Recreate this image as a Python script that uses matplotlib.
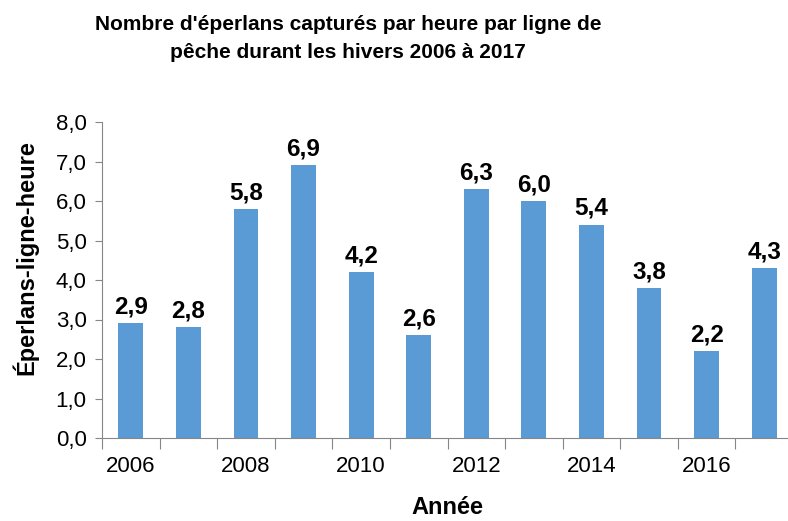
import numpy as np
import matplotlib.pyplot as plt
from matplotlib.ticker import FixedLocator, FuncFormatter

annees = [2006, 2007, 2008, 2009, 2010, 2011, 2012, 2013, 2014, 2015, 2016, 2017]
valeurs = [2.9, 2.8, 5.8, 6.9, 4.2, 2.6, 6.3, 6.0, 5.4, 3.8, 2.2, 4.3]
etiquettes = ["2,9", "2,8", "5,8", "6,9", "4,2", "2,6", "6,3", "6,0", "5,4", "3,8", "2,2", "4,3"]

plt.rcParams['font.family'] = ['Liberation Sans', 'DejaVu Sans']

fig = plt.figure(figsize=(7.88, 5.21), dpi=100)
ax = fig.add_axes([102/788, 83/521, 691/788, 316/521])

x = np.arange(len(annees))
ax.bar(x, valeurs, width=0.43, color="#5B9BD5")

for xi, v, lab in zip(x, valeurs, etiquettes):
	ax.annotate(lab, (xi, v), xytext=(0, 7), textcoords="offset points",
		ha="center", va="baseline", fontsize=17.5, fontweight="bold")

ax.set_xlim(-0.5, len(annees) - 0.5)
ax.set_ylim(0, 8)
ax.set_yticks(np.arange(0, 8.1, 1))
ax.yaxis.set_major_formatter(FuncFormatter(lambda v, p: f"{v:.1f}".replace(".", ",")))

# ticks aux limites des categories, etiquettes une annee sur deux
ax.xaxis.set_major_locator(FixedLocator(np.arange(-0.5, len(annees), 1)))
ax.xaxis.set_major_formatter(FuncFormatter(lambda v, p: ""))
ax.xaxis.set_minor_locator(FixedLocator(x[::2]))
ax.set_xticklabels([str(a) for a in annees[::2]], minor=True)
ax.tick_params(axis="x", which="major", length=8, color="#868686", direction="out")
ax.tick_params(axis="x", which="minor", length=0, labelsize=16, pad=13)
ax.tick_params(axis="y", length=5, color="#868686", labelsize=16, pad=6)

for s in ["top", "right"]:
	ax.spines[s].set_visible(False)
for s in ["left", "bottom"]:
	ax.spines[s].set_color("#868686")

fig.text(25/788, 1 - 258/521, "Éperlans-ligne-heure", rotation=90, ha="center", va="center",
	fontsize=17, fontweight="bold")
fig.text(447/788, 1 - 508/521, "Année", ha="center", va="center", fontsize=17, fontweight="bold")
fig.text(348/788, 1 - 38/521, "Nombre d'éperlans capturés par heure par ligne de\npêche durant les hivers 2006 à 2017",
	ha="center", va="center", fontsize=15, fontweight="bold", linespacing=1.6)

fig.savefig("out.png", dpi=100)
